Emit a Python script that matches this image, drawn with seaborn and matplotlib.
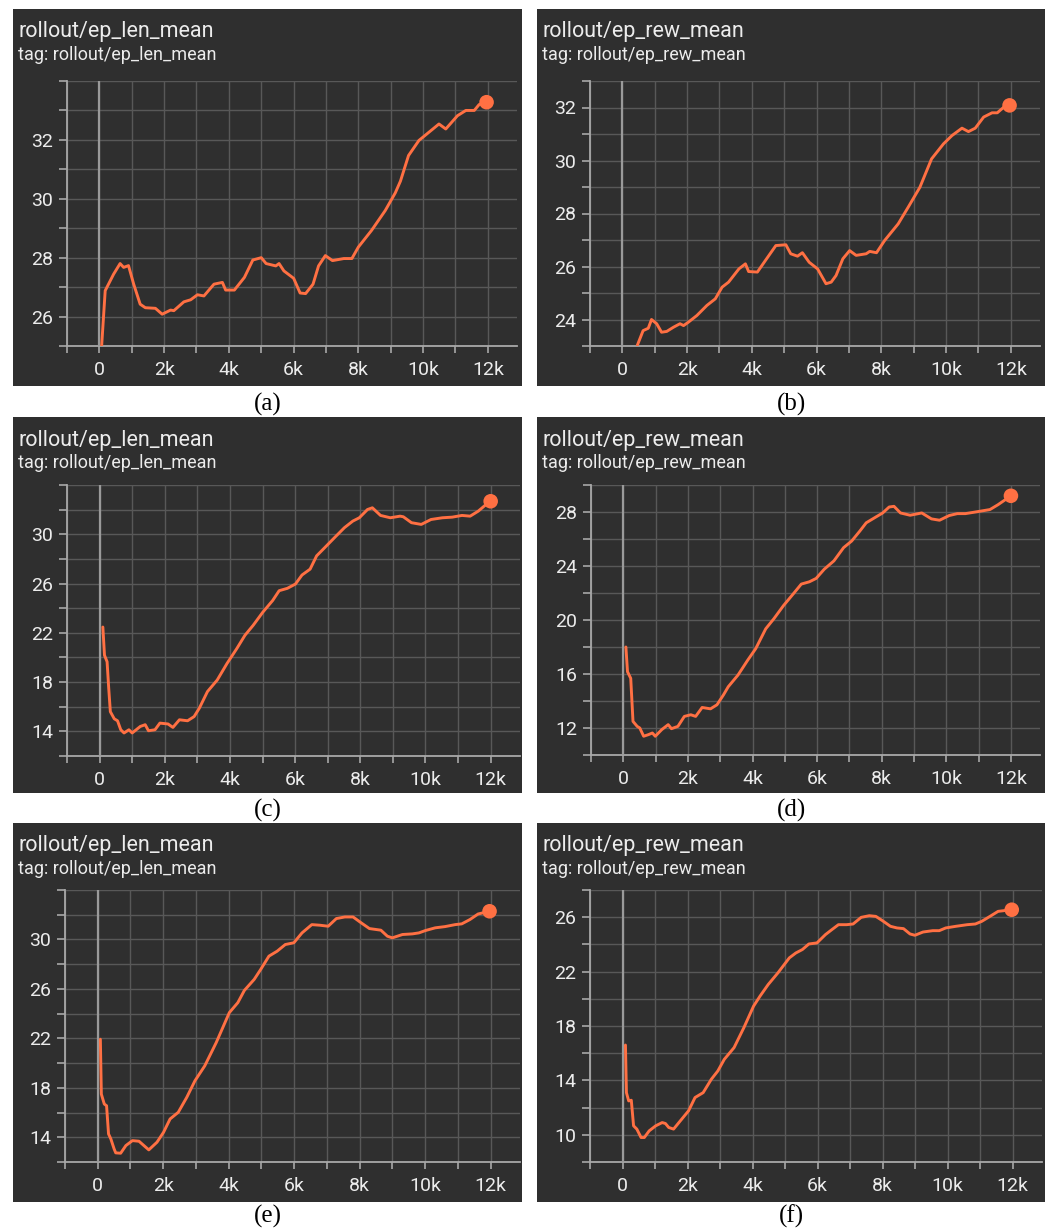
import numpy as np
import pandas as pd
import matplotlib
matplotlib.use("Agg")
import matplotlib.pyplot as plt
import seaborn as sns
from matplotlib.ticker import MultipleLocator, FixedLocator, FuncFormatter
from matplotlib.patches import Rectangle

# --- data (steps in thousands) ---
a_steps = [0.07, 0.18, 0.44, 0.64, 0.75, 0.9, 1.06, 1.26, 1.42, 1.73, 1.94, 2.2, 2.3, 2.61, 2.82, 3.03,
           3.23, 3.54, 3.8, 3.9, 4.17, 4.48, 4.74, 5.0, 5.15, 5.45, 5.55, 5.7, 6.0, 6.2, 6.37, 6.6,
           6.77, 6.98, 7.2, 7.55, 7.8, 8.0, 8.41, 8.83, 9.14, 9.3, 9.55, 9.87, 10.18, 10.49, 10.7,
           11.06, 11.32, 11.58, 11.73, 11.96]
a_values = [25.0, 26.88, 27.44, 27.8, 27.67, 27.73, 27.1, 26.42, 26.3, 26.28, 26.08, 26.22, 26.2, 26.5,
            26.57, 26.74, 26.7, 27.1, 27.16, 26.9, 26.9, 27.33, 27.92, 28.0, 27.8, 27.72, 27.8, 27.55,
            27.3, 26.8, 26.78, 27.1, 27.72, 28.07, 27.9, 27.97, 27.97, 28.36, 28.93, 29.6, 30.2, 30.6,
            31.47, 31.98, 32.26, 32.54, 32.37, 32.82, 33.0, 33.0, 33.2, 33.28]

b_steps = [0.46, 0.64, 0.8, 0.9, 1.06, 1.21, 1.37, 1.58, 1.78, 1.89, 2.04, 2.3, 2.61, 2.87, 3.08, 3.28,
           3.6, 3.8, 3.9, 4.17, 4.42, 4.74, 5.05, 5.2, 5.41, 5.56, 5.77, 6.03, 6.29, 6.45, 6.6, 6.81,
           7.02, 7.22, 7.53, 7.64, 7.85, 8.1, 8.52, 8.83, 9.19, 9.55, 9.92, 10.18, 10.49, 10.69, 10.9,
           11.16, 11.42, 11.58, 11.78, 11.96]
b_values = [23.02, 23.58, 23.67, 24.0, 23.84, 23.52, 23.55, 23.71, 23.84, 23.77, 23.9, 24.15, 24.53,
            24.78, 25.22, 25.41, 25.91, 26.1, 25.81, 25.79, 26.23, 26.79, 26.82, 26.48, 26.39, 26.52,
            26.16, 25.91, 25.35, 25.41, 25.66, 26.29, 26.6, 26.42, 26.48, 26.57, 26.52, 26.98, 27.61,
            28.24, 28.99, 30.06, 30.63, 30.94, 31.22, 31.09, 31.22, 31.64, 31.8, 31.8, 32.01, 32.08]

c_steps = [0.1, 0.15, 0.23, 0.28, 0.33, 0.45, 0.55, 0.65, 0.75, 0.9, 1.0, 1.25, 1.4, 1.5, 1.7, 1.85,
           2.1, 2.25, 2.45, 2.7, 2.9, 3.06, 3.31, 3.61, 3.91, 4.21, 4.46, 4.71, 5.01, 5.31, 5.51, 5.76,
           6.01, 6.21, 6.46, 6.66, 6.91, 7.21, 7.51, 7.77, 7.97, 8.22, 8.37, 8.62, 8.92, 9.22, 9.32,
           9.57, 9.87, 10.17, 10.52, 10.82, 11.12, 11.37, 11.62, 11.82, 12.0]
c_values = [22.47, 20.18, 19.65, 17.5, 15.6, 15.02, 14.86, 14.13, 13.87, 14.13, 13.87, 14.4, 14.54,
            14.05, 14.13, 14.67, 14.6, 14.32, 14.94, 14.86, 15.2, 15.88, 17.23, 18.17, 19.51, 20.72,
            21.8, 22.6, 23.68, 24.62, 25.42, 25.61, 25.96, 26.69, 27.17, 28.25, 28.92, 29.73, 30.53,
            31.07, 31.34, 32.01, 32.15, 31.53, 31.34, 31.47, 31.42, 30.94, 30.8, 31.2, 31.34, 31.39,
            31.53, 31.47, 31.88, 32.33, 32.68]

d_steps = [0.08, 0.13, 0.23, 0.3, 0.43, 0.51, 0.63, 0.78, 0.9, 0.99, 1.19, 1.39, 1.49, 1.69, 1.89,
           2.09, 2.24, 2.44, 2.7, 2.9, 3.1, 3.25, 3.55, 3.85, 4.1, 4.41, 4.66, 4.96, 5.26, 5.51, 5.76,
           5.97, 6.22, 6.52, 6.82, 7.07, 7.32, 7.52, 7.77, 8.03, 8.23, 8.38, 8.58, 8.88, 9.24, 9.54,
           9.79, 10.09, 10.34, 10.59, 10.85, 11.15, 11.35, 11.6, 12.0]
d_values = [18.0, 16.17, 15.68, 12.49, 12.12, 12.0, 11.39, 11.51, 11.63, 11.39, 11.88, 12.25, 11.95,
            12.12, 12.86, 12.98, 12.86, 13.52, 13.42, 13.72, 14.45, 15.06, 15.92, 17.02, 17.88, 19.35,
            20.09, 21.07, 21.93, 22.66, 22.83, 23.08, 23.76, 24.38, 25.36, 25.85, 26.58, 27.2, 27.56,
            27.93, 28.37, 28.42, 27.93, 27.76, 27.93, 27.49, 27.39, 27.74, 27.88, 27.88, 27.98, 28.1,
            28.18, 28.54, 29.2]

e_steps = [0.08, 0.11, 0.2, 0.27, 0.33, 0.4, 0.5, 0.55, 0.7, 0.86, 1.06, 1.26, 1.41, 1.56, 1.81, 2.01,
           2.21, 2.46, 2.72, 2.97, 3.27, 3.62, 4.02, 4.28, 4.48, 4.78, 4.98, 5.23, 5.48, 5.73, 5.99,
           6.24, 6.54, 6.79, 7.04, 7.29, 7.55, 7.8, 8.05, 8.3, 8.65, 8.85, 9.0, 9.31, 9.61, 9.81,
           10.01, 10.31, 10.61, 10.92, 11.12, 11.37, 11.62, 11.97]
e_values = [21.93, 17.49, 16.69, 16.55, 14.27, 13.87, 13.06, 12.74, 12.71, 13.33, 13.73, 13.68, 13.33,
            12.98, 13.6, 14.4, 15.48, 16.02, 17.23, 18.57, 19.78, 21.66, 24.08, 24.89, 25.88, 26.77,
            27.58, 28.65, 29.05, 29.59, 29.73, 30.53, 31.2, 31.15, 31.07, 31.69, 31.82, 31.82, 31.34,
            30.88, 30.75, 30.26, 30.13, 30.4, 30.45, 30.53, 30.72, 30.94, 31.04, 31.2, 31.26, 31.61,
            32.06, 32.28]

f_steps = [0.09, 0.12, 0.19, 0.27, 0.34, 0.44, 0.57, 0.67, 0.82, 1.02, 1.22, 1.32, 1.42, 1.57, 1.82,
           2.03, 2.23, 2.48, 2.73, 2.93, 3.13, 3.43, 3.73, 4.03, 4.23, 4.48, 4.78, 5.13, 5.33, 5.53,
           5.73, 5.98, 6.24, 6.44, 6.64, 6.89, 7.09, 7.34, 7.59, 7.79, 7.99, 8.24, 8.44, 8.64, 8.84,
           8.99, 9.24, 9.54, 9.74, 9.94, 10.25, 10.6, 10.85, 11.05, 11.3, 11.55, 11.97]
f_values = [16.6, 13.1, 12.49, 12.54, 10.66, 10.42, 9.8, 9.8, 10.29, 10.66, 10.9, 10.83, 10.54, 10.42,
            11.15, 11.76, 12.74, 13.1, 14.08, 14.69, 15.55, 16.41, 17.87, 19.46, 20.2, 21.05, 21.91,
            23.01, 23.37, 23.62, 24.03, 24.11, 24.72, 25.09, 25.45, 25.45, 25.5, 25.99, 26.11, 26.06,
            25.75, 25.33, 25.21, 25.16, 24.77, 24.67, 24.91, 25.01, 25.01, 25.21, 25.33, 25.45, 25.5,
            25.7, 26.06, 26.43, 26.55]

titles = ["rollout/ep_len_mean", "rollout/ep_rew_mean"] * 3
captions = ["(a)", "(b)", "(c)", "(d)", "(e)", "(f)"]
y_labels = [[26, 28, 30, 32], [24, 26, 28, 30, 32], [14, 18, 22, 26, 30],
            [12, 16, 20, 24, 28], [14, 18, 22, 26, 30], [10, 14, 18, 22, 26]]
y_ranges = [(25, 34), (23, 33), (12, 34), (10, 30), (12, 34), (8, 28)]
y_grid_step = [1, 1, 2, 2, 2, 2]

series = [(a_steps, a_values), (b_steps, b_values), (c_steps, c_values),
          (d_steps, d_values), (e_steps, e_values), (f_steps, f_values)]

# --- layout in pixels (figure 1051 x 1232) ---
W, H = 1051, 1232
panel_boxes = [(13, 9, 522, 386), (537, 9, 1045, 386),
               (13, 417, 522, 793), (537, 417, 1045, 793),
               (13, 823, 522, 1202), (537, 823, 1045, 1202)]
axes_boxes = [(67, 81, 517, 346), (590, 81, 1040, 346),
              (67, 485, 520, 756), (591, 485, 1040, 755),
              (65, 890, 520, 1162), (590, 890, 1042, 1162)]
caption_y = [404, 404, 810, 810, 1216, 1216]

BG = "#2f2f2f"
GRID = "#585858"
AXIS = "#a8a8a8"
TXT = "#ececec"
ORANGE = "#ff7043"

sns.set_style("dark")
plt.rcParams["font.family"] = ["Roboto", "DejaVu Sans"]

fig = plt.figure(figsize=(W / 100, H / 100), dpi=100, facecolor="white")


def fbox(x0, y0, x1, y1):
    return [x0 / W, 1 - y1 / H, (x1 - x0) / W, (y1 - y0) / H]


kfmt = FuncFormatter(lambda v, p: "0" if v == 0 else f"{int(v / 1000)}k")

for i in range(6):
    px0, py0, px1, py1 = panel_boxes[i]
    fig.add_artist(Rectangle((px0 / W, 1 - py1 / H), (px1 - px0) / W, (py1 - py0) / H,
                             transform=fig.transFigure, facecolor=BG, edgecolor="none", zorder=0))

    ax = fig.add_axes(fbox(*axes_boxes[i]))
    ax.set_facecolor(BG)
    steps, vals = series[i]
    df = pd.DataFrame({"step": np.array(steps) * 1000, "value": vals})

    sns.lineplot(data=df, x="step", y="value", ax=ax, color=ORANGE, linewidth=2.1,
                 estimator=None, zorder=5)
    sns.scatterplot(x=df["step"].iloc[-1:], y=df["value"].iloc[-1:], ax=ax, color=ORANGE,
                    s=110, edgecolor="none", zorder=6)

    ax.set_xlim(-1000, 12900)
    ax.set_ylim(*y_ranges[i])
    ax.xaxis.set_major_locator(MultipleLocator(2000))
    ax.xaxis.set_minor_locator(MultipleLocator(1000))
    ax.xaxis.set_major_formatter(kfmt)
    ax.yaxis.set_major_locator(FixedLocator(y_labels[i]))
    ax.yaxis.set_minor_locator(MultipleLocator(y_grid_step[i]))

    ax.grid(True, which="both", color=GRID, linewidth=1.0)
    ax.axvline(0, color="#9a9a9a", linewidth=1.6, zorder=3)

    for side in ["top", "right"]:
        ax.spines[side].set_visible(False)
    for side in ["left", "bottom"]:
        ax.spines[side].set_visible(True)
        ax.spines[side].set_color(AXIS)
        ax.spines[side].set_linewidth(1.3)

    ax.tick_params(axis="y", which="both", length=6, width=1.2, color=AXIS, left=True,
                   labelsize=14, labelcolor=TXT, pad=4)
    ax.tick_params(axis="x", which="both", length=5, width=1.2, color=AXIS, bottom=True,
                   labelsize=14, labelcolor=TXT, pad=6)
    ax.set_xlabel("")
    ax.set_ylabel("")

    # panel header text
    fig.text((px0 + 5) / W, 1 - (py0 + 23) / H, titles[i], color=TXT, fontsize=15.5,
             va="center", ha="left")
    fig.text((px0 + 5) / W, 1 - (py0 + 46) / H, "tag: " + titles[i], color=TXT,
             fontsize=13, va="center", ha="left")

    # subfigure caption
    fig.text(((px0 + px1) / 2) / W, 1 - caption_y[i] / H, captions[i], color="black",
             fontsize=18, ha="center", va="center", family=["Liberation Serif", "DejaVu Serif"])

fig.savefig("out.png", dpi=100, facecolor="white")
